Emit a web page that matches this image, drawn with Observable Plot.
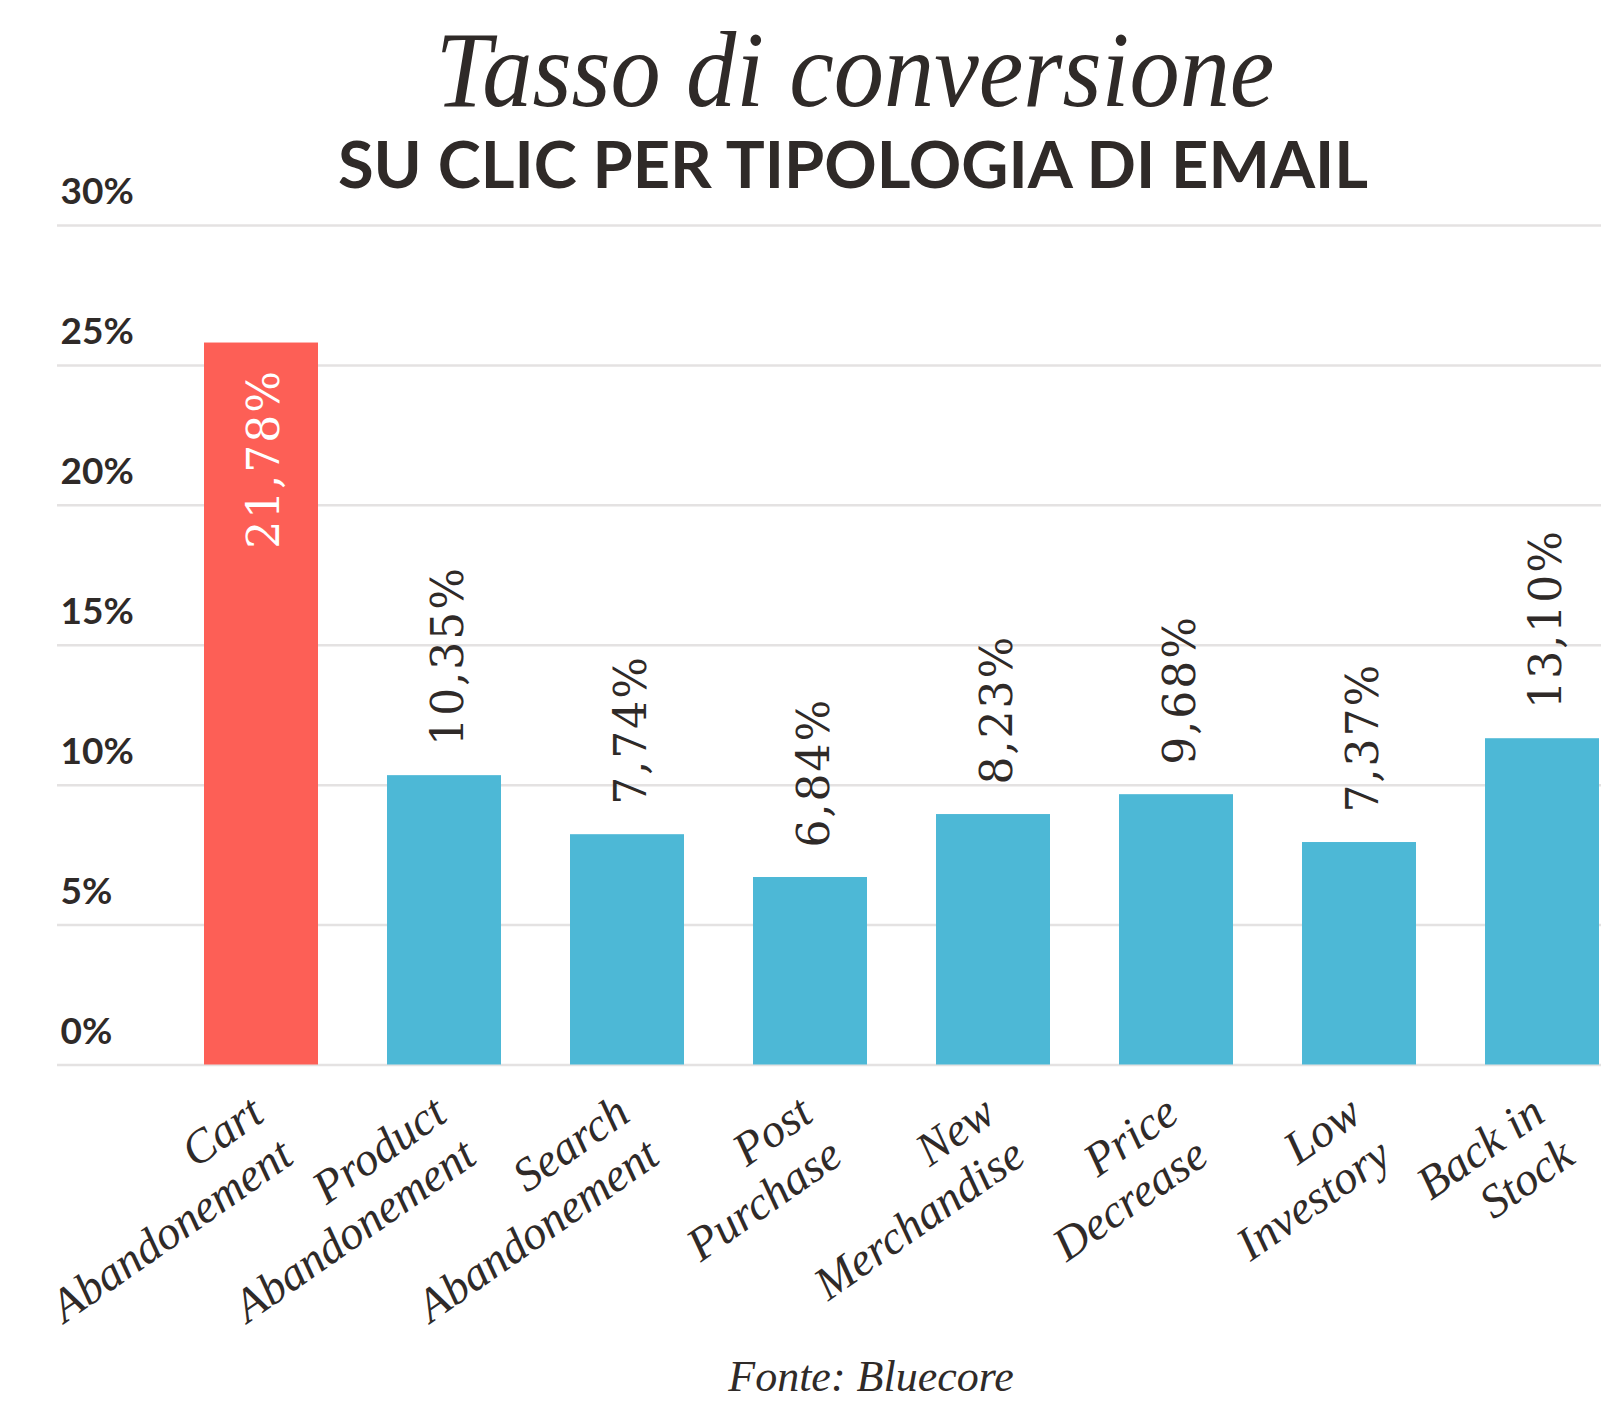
<!DOCTYPE html>
<html>
<head>
<meta charset="utf-8">
<script src="https://cdn.jsdelivr.net/npm/d3@7"></script>
<script src="https://cdn.jsdelivr.net/npm/@observablehq/plot@0.6"></script>
<style>
  html, body { margin: 0; padding: 0; background: #fff; overflow: hidden; }
  #wrap { position: relative; width: 1601px; height: 1401px; overflow: hidden; background: #fff; }
  .abs { position: absolute; white-space: nowrap; color: #2f2a28; }
  #title { left: 855px; top: 16px; font-family: "Liberation Serif", serif; font-style: italic; font-size: 108px; line-height: 1; transform: translateX(-50%) scaleX(0.93); transform-origin: 50% 50%; }
  #subtitle { left: 853px; top: 131px; font-family: "Lato", sans-serif; font-weight: 700; font-size: 65px; line-height: 1; transform: translateX(-50%); }
  #source { left: 871px; top: 1355px; font-family: "Liberation Serif", serif; font-style: italic; font-size: 44px; line-height: 1; transform: translateX(-50%); }
  #chart { position: absolute; left: 0; top: 0; }
</style>
</head>
<body>
<div id="wrap">
  <div id="chart"></div>
  <div id="title" class="abs">Tasso di conversione</div>
  <div id="subtitle" class="abs">SU CLIC PER TIPOLOGIA DI EMAIL</div>
  <div id="source" class="abs">Fonte: Bluecore</div>
</div>
<script>
const categories = [
  "Cart\nAbandonement",
  "Product\nAbandonement",
  "Search\nAbandonement",
  "Post\nPurchase",
  "New\nMerchandise",
  "Price\nDecrease",
  "Low\nInvestory",
  "Back in\nStock"
];
const values = [25.8, 10.34, 8.23, 6.70, 8.95, 9.66, 7.95, 11.66];
const valueLabels = ["21,78%", "10,35%", "7,74%", "6,84%", "8,23%", "9,68%", "7,37%", "13,10%"];
const yTicks = [0, 5, 10, 15, 20, 25, 30];
const highlight = "Cart\nAbandonement";

const RED = "#fd5f56";
const BLUE = "#4db8d6";
const DARK = "#2f2a28";
const GRID = "#e4e2e2";

const data = categories.map((c, i) => ({category: c, value: values[i], label: valueLabels[i]}));

const chart = Plot.plot({
  width: 1601,
  height: 1401,
  marginTop: 225,
  marginBottom: 336.5,
  marginLeft: 57,
  marginRight: 0,
  style: {background: "transparent", maxWidth: "none"},
  x: {domain: categories, range: [202.5, 1600], paddingInner: 0.376, paddingOuter: 0, axis: null},
  y: {domain: [0, 30], axis: null},
  color: {type: "identity"},
  marks: [
    Plot.ruleY(yTicks, {stroke: GRID, strokeWidth: 2.5}),
    Plot.barY(data, {x: "category", y: "value", fill: d => d.category === highlight ? RED : BLUE}),
    Plot.text(yTicks, {
      y: d => d, frameAnchor: "left", text: d => `${d}%`,
      textAnchor: "start", dx: 3, dy: -33,
      fontSize: 37, fontWeight: 700, fontFamily: "Lato", fill: DARK
    }),
    Plot.text(data.filter(d => d.category === highlight), {
      x: "category", y: "value", text: "label", rotate: -90,
      textAnchor: "end", lineAnchor: "middle", dx: 3, dy: 26,
      fontSize: 44, fontFamily: "DejaVu Serif", fill: "#ffffff"
    }),
    Plot.text(data.filter(d => d.category !== highlight), {
      x: "category", y: "value", text: "label", rotate: -90,
      textAnchor: "start", lineAnchor: "middle", dx: 4, dy: -30,
      fontSize: 44, fontFamily: "DejaVu Serif", fill: DARK
    }),
    Plot.text(categories, {
      x: d => d, frameAnchor: "bottom", text: d => d, rotate: -35,
      textAnchor: "end", lineAnchor: "middle", lineHeight: 1.1,
      dx: 10, dy: 62,
      fontSize: 47, fontStyle: "italic", fontFamily: "Liberation Serif", fill: DARK
    })
  ]
});
d3.select(chart).selectAll("g")
  .filter(function() { return this.getAttribute("font-size") === "44"; })
  .selectAll("text")
  .style("letter-spacing", "2px");
document.getElementById("chart").appendChild(chart);
</script>
</body>
</html>
